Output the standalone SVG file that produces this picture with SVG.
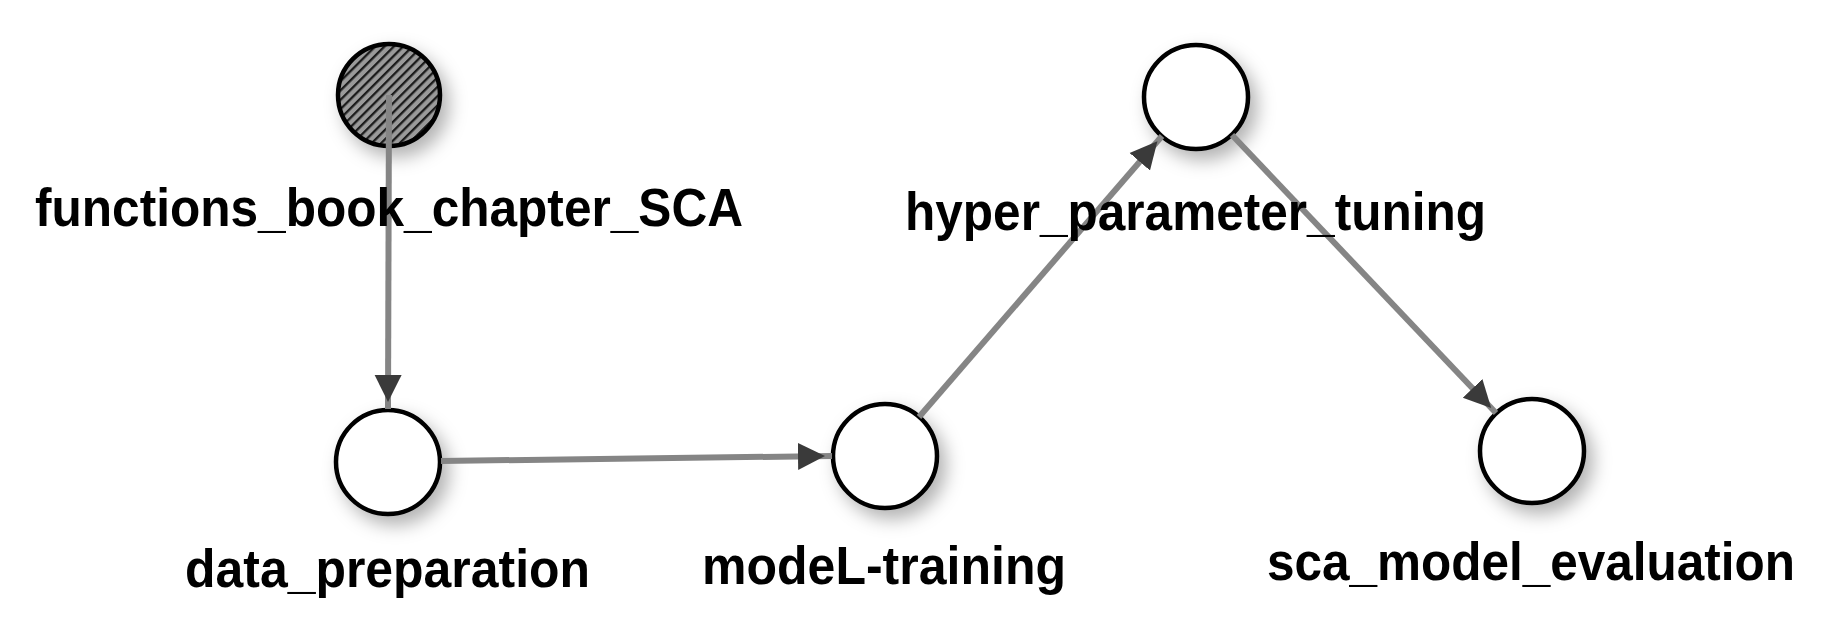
<svg xmlns="http://www.w3.org/2000/svg" width="1840" height="638" viewBox="0 0 1840 638">
  <defs>
    <filter id="shadow" x="-50%" y="-50%" width="200%" height="200%">
      <feDropShadow dx="7" dy="9" stdDeviation="9" flood-color="#000" flood-opacity="0.3"/>
    </filter>
    <pattern id="hatch" width="6.6" height="6.6" patternUnits="userSpaceOnUse" patternTransform="rotate(45)">
      <rect width="6.6" height="6.6" fill="#9a9a9a"/>
      <rect x="0" y="0" width="2.3" height="6.6" fill="#1a1a1a"/>
    </pattern>
    <marker id="arrow" markerUnits="userSpaceOnUse" markerWidth="40" markerHeight="40" viewBox="0 0 40 40" refX="34" refY="20" orient="auto">
      <path d="M0,6.5 L27,20 L0,33.5 Z" fill="#3a3a3a"/>
    </marker>
  </defs>
  <style>
    .node { fill: #ffffff; stroke: #000000; stroke-width: 4.5; }
    .edge { fill: none; stroke: #858585; stroke-width: 6; }
    .label { font-family: "Liberation Sans", Arial, Helvetica, sans-serif; font-weight: bold; font-size: 53px; fill: #000; text-anchor: middle; }
  </style>
  <rect width="1840" height="638" fill="#ffffff"/>

  <g id="nodes-shapes">
    <g id="node-functions_book_chapter_SCA">
      <circle cx="389" cy="95" r="51" fill="url(#hatch)" stroke="#000" stroke-width="4.5" filter="url(#shadow)"/>
    </g>
    <g id="node-data_preparation">
      <circle class="node" cx="388" cy="462" r="52" filter="url(#shadow)"/>
    </g>
    <g id="node-modeL-training">
      <circle class="node" cx="885" cy="456" r="52" filter="url(#shadow)"/>
    </g>
    <g id="node-hyper_parameter_tuning">
      <circle class="node" cx="1196" cy="97" r="52" filter="url(#shadow)"/>
    </g>
    <g id="node-sca_model_evaluation">
      <circle class="node" cx="1532" cy="451" r="52" filter="url(#shadow)"/>
    </g>
  </g>

  <g id="connectors">
    <line class="edge" x1="389" y1="95" x2="388" y2="409" marker-end="url(#arrow)"/>
    <line class="edge" x1="441" y1="461" x2="832" y2="456" marker-end="url(#arrow)"/>
    <line class="edge" x1="919" y1="417" x2="1162" y2="136" marker-end="url(#arrow)"/>
    <line class="edge" x1="1232" y1="135" x2="1496" y2="413" marker-end="url(#arrow)"/>
  </g>

  <g id="labels">
    <text class="label" x="389" y="226" textLength="708" lengthAdjust="spacingAndGlyphs">functions_book_chapter_SCA</text>
    <text class="label" x="1195.5" y="230" textLength="581" lengthAdjust="spacingAndGlyphs">hyper_parameter_tuning</text>
    <text class="label" x="387.5" y="587" textLength="405" lengthAdjust="spacingAndGlyphs">data_preparation</text>
    <text class="label" x="884" y="584" textLength="364" lengthAdjust="spacingAndGlyphs">modeL-training</text>
    <text class="label" x="1531" y="580" textLength="528" lengthAdjust="spacingAndGlyphs">sca_model_evaluation</text>
  </g>
</svg>
